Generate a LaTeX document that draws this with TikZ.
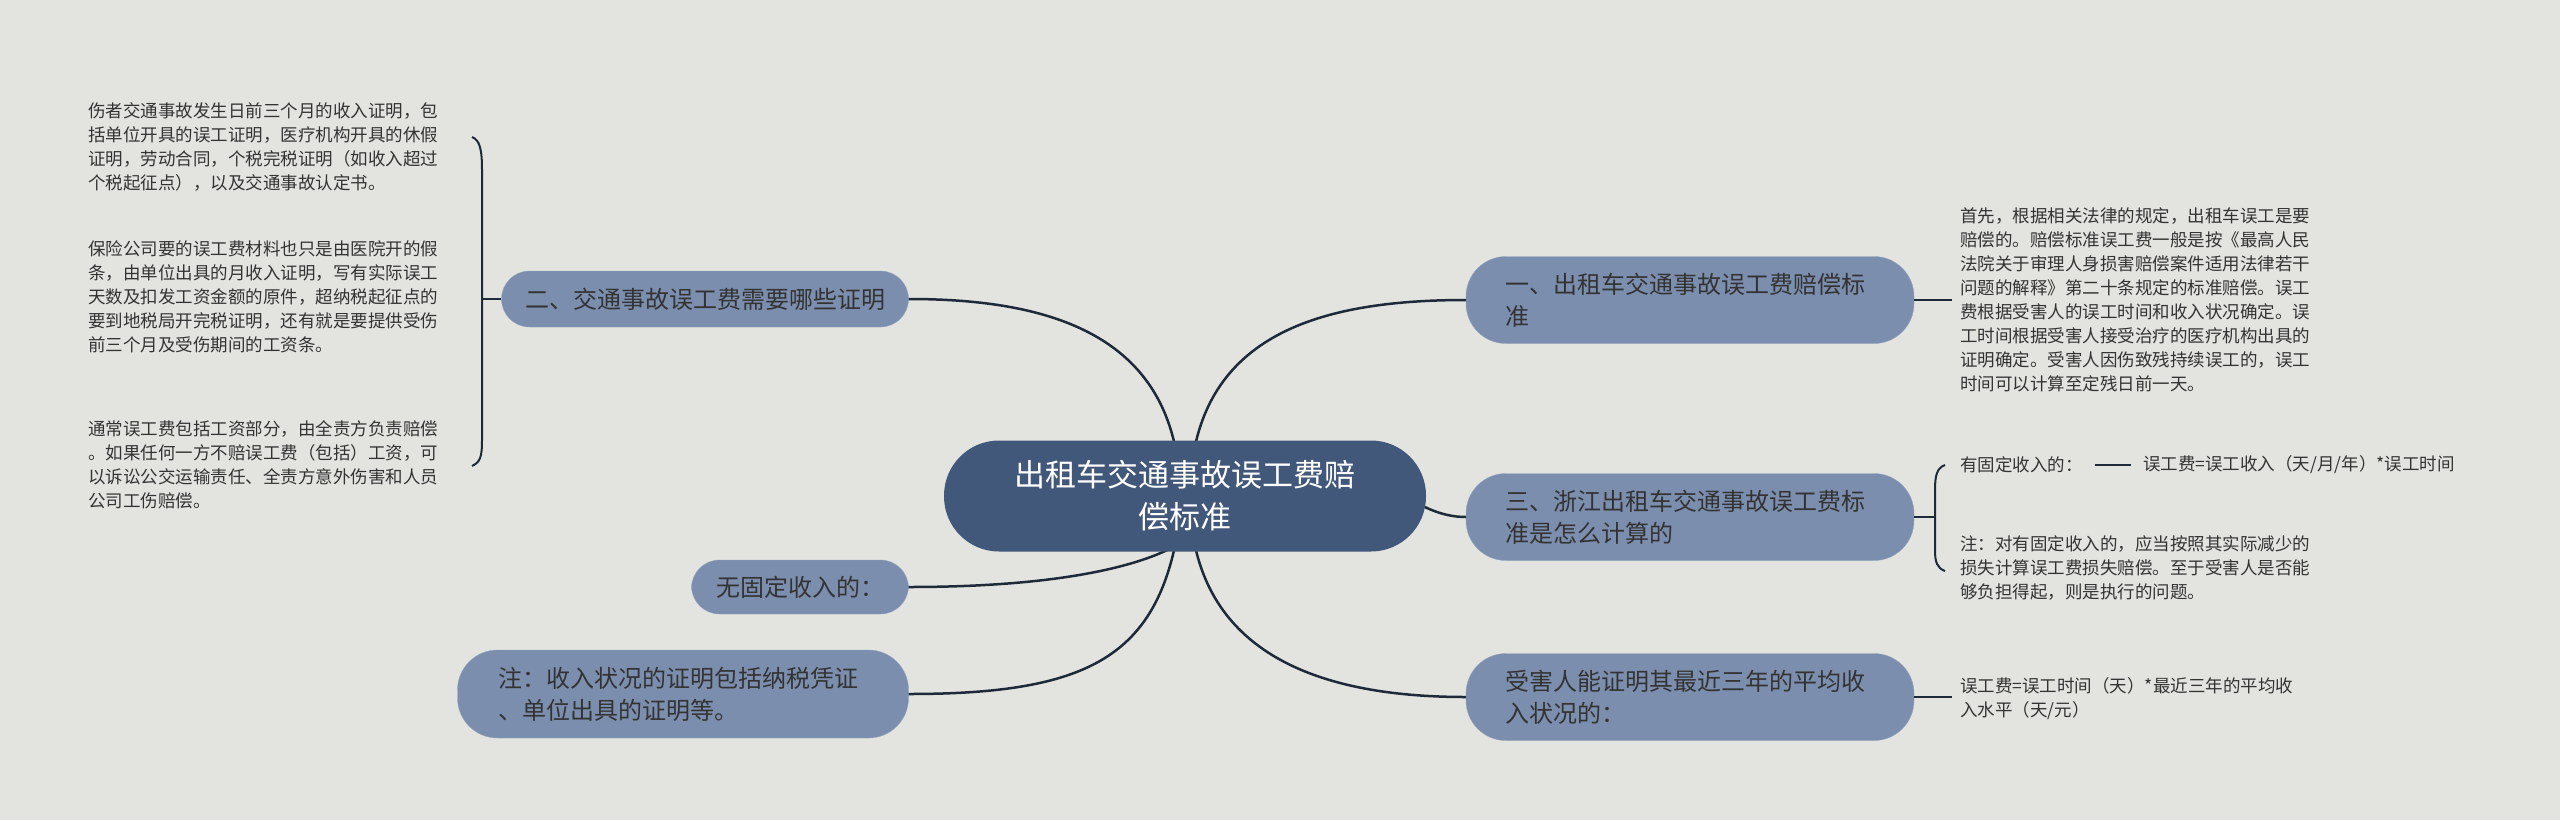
\documentclass[tikz,border=0pt]{standalone}
\usepackage{fontspec}
\usetikzlibrary{calc}
\newfontfamily\cjk{Noto Sans CJK SC}
\definecolor{bg}{HTML}{E3E4DF}
\definecolor{mainc}{HTML}{42587A}
\definecolor{subc}{HTML}{7B8EAE}
\definecolor{linec}{HTML}{1E2A3A}
\definecolor{txt}{HTML}{333333}
\begin{document}
\begin{tikzpicture}[x=1pt,y=-1pt,
  sub/.style={rounded corners=28pt,fill=subc,draw=subc!80!white,text=txt,font=\cjk\fontsize{24}{32}\selectfont,align=left,inner xsep=0pt,inner ysep=0pt},
  leaf/.style={text=txt,font=\cjk\fontsize{17.5}{24}\selectfont,align=left,anchor=west,inner sep=0pt},
  conn/.style={draw=linec,line width=2.5pt}]
\fill[bg] (0,0) rectangle (2560,820);
\useasboundingbox (0,0) rectangle (2560,820);
% branch nodes
\node[sub,minimum width=407pt,minimum height=56pt,align=center] (b2) at (705,299) {二、交通事故误工费需要哪些证明};
\node[sub,minimum width=217pt,minimum height=54pt,align=center] (b4) at (800,587) {无固定收入的：};
\node[sub,minimum width=451pt,minimum height=88pt,rounded corners=40pt,text width=370pt] (b5) at (683,694) {注：收入状况的证明包括纳税凭证\\、单位出具的证明等。};
\node[sub,minimum width=448pt,minimum height=87pt,rounded corners=40pt,text width=370pt] (b1) at (1690,300) {一、出租车交通事故误工费赔偿标\\准};
\node[sub,minimum width=448pt,minimum height=87pt,rounded corners=40pt,text width=370pt] (b3) at (1690,517) {三、浙江出租车交通事故误工费标\\准是怎么计算的};
\node[sub,minimum width=448pt,minimum height=87pt,rounded corners=40pt,text width=370pt] (b6) at (1690,697) {受害人能证明其最近三年的平均收\\入状况的：};
% left leaves
\node[leaf] (l1) at (88,147) {伤者交通事故发生日前三个月的收入证明，包\\括单位开具的误工证明，医疗机构开具的休假\\证明，劳动合同，个税完税证明（如收入超过\\个税起征点），以及交通事故认定书。};
\node[leaf] (l2) at (88,297) {保险公司要的误工费材料也只是由医院开的假\\条，由单位出具的月收入证明，写有实际误工\\天数及扣发工资金额的原件，超纳税起征点的\\要到地税局开完税证明，还有就是要提供受伤\\前三个月及受伤期间的工资条。};
\node[leaf] (l3) at (88,465) {通常误工费包括工资部分，由全责方负责赔偿\\。如果任何一方不赔误工费（包括）工资，可\\以诉讼公交运输责任、全责方意外伤害和人员\\公司工伤赔偿。};
% right leaves
\node[leaf] (r1) at (1960,300) {首先，根据相关法律的规定，出租车误工是要\\赔偿的。赔偿标准误工费一般是按《最高人民\\法院关于审理人身损害赔偿案件适用法律若干\\问题的解释》第二十条规定的标准赔偿。误工\\费根据受害人的误工时间和收入状况确定。误\\工时间根据受害人接受治疗的医疗机构出具的\\证明确定。受害人因伤致残持续误工的，误工\\时间可以计算至定残日前一天。};
\node[leaf] (r2) at (1960,465) {有固定收入的：};
\node[leaf] (r2b) at (2143,465) {误工费=误工收入（天/月/年）*误工时间};
\node[leaf] (r3) at (1960,568) {注：对有固定收入的，应当按照其实际减少的\\损失计算误工费损失赔偿。至于受害人是否能\\够负担得起，则是执行的问题。};
\node[leaf] (r4) at (1960,699) {误工费=误工时间（天）*最近三年的平均收\\入水平（天/元）};
% connectors from center
\coordinate (cc) at (1185,496);
\draw[conn] ($(cc)+(-10,-50)$) .. controls (1150,330) and (1040,299) .. (b2.east);
\draw[conn] ($(cc)+(-10,50)$) .. controls (1150,560) and (1080,587) .. (b4.east);
\draw[conn] ($(cc)+(-10,50)$) .. controls (1150,660) and (1080,694) .. (b5.east);
\draw[conn] ($(cc)+(10,-50)$) .. controls (1220,330) and (1330,300) .. (b1.west);
\draw[conn] ($(cc)+(220,0)$) .. controls (1420,505) and (1440,517) .. (b3.west);
\draw[conn] ($(cc)+(10,50)$) .. controls (1220,660) and (1330,697) .. (b6.west);
% center on top
\node[fill=mainc,rounded corners=55pt,minimum width=482pt,minimum height=111pt,text=white,font=\cjk\fontsize{31}{42}\selectfont,align=center,inner sep=0pt] (c) at (cc) {出租车交通事故误工费赔\\偿标准};
% leaf connectors
\coordinate (lb) at (482,299);
\draw[conn,line width=2pt] (b2.west) -- (lb);
\draw[conn,line width=2pt] (472,137) .. controls (480,140) and (482,150) .. (482,170) -- (482,440) .. controls (482,458) and (480,462) .. (472,466);
\coordinate (rb) at (1935,517);
\draw[conn,line width=2pt] (b3.east) -- (rb);
\draw[conn,line width=2pt] (1945,465) .. controls (1937,468) and (1935,475) .. (1935,490) -- (1935,550) .. controls (1935,562) and (1937,568) .. (1945,571);
\draw[conn,line width=2pt] (b1.east) -- ($(r1.west)+(-8,0)$);
\draw[conn,line width=2pt] (b6.east) -- ($(r4.west)+(-8,-2)$);
\draw[conn,line width=2pt] ([xshift=12pt]r2.east) -- ([xshift=-12pt]r2b.west);
\end{tikzpicture}
\end{document}
